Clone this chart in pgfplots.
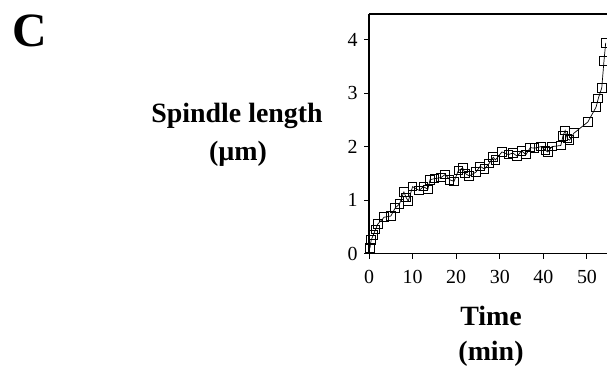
\documentclass[border=0pt]{standalone}
\usepackage{pgfplots}
\pgfplotsset{compat=1.18}
\usepackage{fontspec}
\setmainfont{Liberation Serif}
\begin{document}
\begin{tikzpicture}[x=1bp,y=1bp]
\path[use as bounding box] (0,0) rectangle (607,368);
\node[anchor=center,font=\fontsize{48}{50}\selectfont\bfseries] at (30,337) {C};
\node[anchor=base,font=\fontsize{28}{30}\selectfont\bfseries] at (237,246) {Spindle length};
\node[anchor=base,font=\fontsize{28}{30}\selectfont\bfseries] at (238,208) {(\textmu m)};
\node[anchor=base,font=\fontsize{28}{30}\selectfont\bfseries] at (491,43) {Time};
\node[anchor=base,font=\fontsize{28}{30}\selectfont\bfseries] at (491,8) {(min)};
\begin{axis}[
  at={(369bp,114.5bp)}, anchor=south west,
  scale only axis, width=238bp, height=239.5bp,
  xmin=0, xmax=54.6, ymin=0, ymax=4.48,
  axis x line*=bottom, axis y line*=left,
  axis line style={line width=1.2pt},
  xtick={0,10,...,50}, ytick={0,1,2,3,4},
  tick align=outside, major tick length=5bp,
  tick style={line width=1pt,black},
  /pgf/number format/assume math mode=true,
  ticklabel style={font=\fontsize{20}{22}\selectfont},
  xticklabel style={yshift=-8bp},
  yticklabel style={xshift=-3bp},
  clip=true,
]
\draw[line width=1.2pt] (rel axis cs:0,1) -- (rel axis cs:1,1);
\addplot[black, line width=0.7pt, mark=square, mark size=4.3bp, mark options={solid,line width=1pt}] coordinates {
(0.2,0.1) (0.5,0.25) (1.0,0.35) (1.5,0.45) (2.0,0.55) (3.5,0.68) (5.0,0.7)
(6.0,0.85) (7.0,0.93) (8.0,1.15) (8.5,1.05) (9.0,0.98) (10.0,1.25) (11.5,1.18)
(12.5,1.25) (13.5,1.2) (14.0,1.38) (15.0,1.4) (16.5,1.42) (17.5,1.48) (18.5,1.38)
(19.5,1.35) (20.5,1.55) (21.5,1.6) (22.0,1.5) (23.0,1.45) (24.5,1.52) (25.5,1.63)
(26.5,1.58) (27.5,1.68) (28.5,1.8) (29.0,1.75) (30.5,1.9) (32.0,1.85) (33.0,1.88)
(34.0,1.82) (35.0,1.92) (36.0,1.85) (37.0,1.98) (38.0,1.97) (39.5,2.0) (40.5,1.93)
(41.0,1.9) (42.0,2.0) (44.0,2.02) (44.5,2.2) (45.0,2.3) (45.5,2.15) (46.0,2.12)
(47.0,2.25) (50.2,2.46) (52.1,2.74) (52.6,2.9) (53.4,3.1) (53.9,3.6) (54.3,3.94)
};
\end{axis}
\end{tikzpicture}
\end{document}
